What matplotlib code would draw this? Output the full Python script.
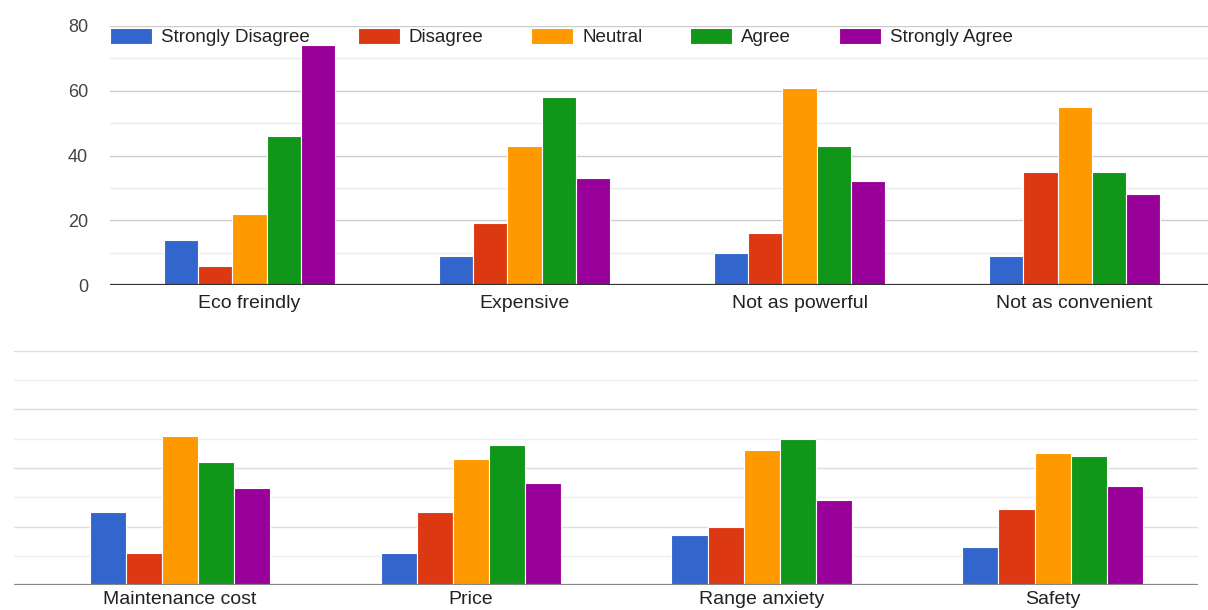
import numpy as np
import matplotlib.pyplot as plt
from matplotlib.ticker import MultipleLocator

# ======================
# Data
# ======================
responses = ['Strongly Disagree', 'Disagree', 'Neutral', 'Agree', 'Strongly Agree']
colors = ['#3366cc', '#dc3912', '#ff9900', '#109618', '#990099']

top_cats = ['Eco freindly', 'Expensive', 'Not as powerful', 'Not as convenient']
top_strongly_disagree = [14, 9, 10, 9]
top_disagree = [6, 19, 16, 35]
top_neutral = [22, 43, 61, 55]
top_agree = [46, 58, 43, 35]
top_strongly_agree = [74, 33, 32, 28]

bot_cats = ['Maintenance cost', 'Price', 'Range anxiety', 'Safety']
bot_strongly_disagree = [25, 11, 17, 13]
bot_disagree = [11, 25, 20, 26]
bot_neutral = [51, 43, 46, 45]
bot_agree = [42, 48, 50, 44]
bot_strongly_agree = [33, 35, 29, 34]

top_series = [top_strongly_disagree, top_disagree, top_neutral, top_agree, top_strongly_agree]
bot_series = [bot_strongly_disagree, bot_disagree, bot_neutral, bot_agree, bot_strongly_agree]

plt.rcParams['font.family'] = ['Liberation Sans', 'DejaVu Sans']

W, H = 1208, 610
fig = plt.figure(figsize=(W / 100, H / 100), dpi=100)


def px_axes(left, top, right, bottom):
    return fig.add_axes([left / W, 1 - bottom / H, (right - left) / W, (bottom - top) / H])


def draw_panel(ax, cats, series, xlim, major_col, minor_col, base_col, fs):
    group = 0.62
    bw = group / len(series)
    x = np.arange(len(cats))
    bars = []
    for i, (vals, c) in enumerate(zip(series, colors)):
        off = -group / 2 + bw * (i + 0.5)
        b = ax.bar(x + off, vals, width=bw, color=c, edgecolor='white', linewidth=0.8, zorder=3)
        bars.append(b)
    ax.set_xlim(*xlim)
    ax.set_ylim(0, 80)
    ax.yaxis.set_major_locator(MultipleLocator(20))
    ax.yaxis.set_minor_locator(MultipleLocator(10))
    ax.grid(axis='y', which='major', color=major_col, linewidth=1.0, zorder=0)
    ax.grid(axis='y', which='minor', color=minor_col, linewidth=1.0, zorder=0)
    ax.axhline(0, color=base_col, linewidth=1.6, zorder=4)
    for s in ax.spines.values():
        s.set_visible(False)
    ax.set_xticks(x)
    ax.set_xticklabels(cats, fontsize=fs, color='#222222')
    ax.tick_params(axis='x', length=0, pad=8)
    ax.tick_params(axis='y', which='both', length=0)
    return bars


# Top panel
ax1 = px_axes(110, 26, 1208, 285)
bars = draw_panel(ax1, top_cats, top_series, (-0.507, 3.485), '#cccccc', '#ebebeb', '#333333', 14)
ax1.set_yticks([0, 20, 40, 60, 80])
ax1.set_yticklabels(['0', '20', '40', '60', '80'], fontsize=13, color='#444444')
ax1.tick_params(axis='y', pad=15.8)
ax1.tick_params(axis='x', pad=7.5)

leg = ax1.legend(bars, responses, loc='center left', bbox_to_anchor=(0.0, (285 - 37) / (285 - 26)),
                 ncol=5, frameon=False, fontsize=13.5, handlelength=2.24, handleheight=1.0,
                 handletextpad=0.48, columnspacing=2.55, borderpad=0, borderaxespad=0)
for t in leg.get_texts():
    t.set_color('#222222')

# Bottom panel (y labels cropped away)
ax2 = px_axes(14, 351, 1198, 585)
draw_panel(ax2, bot_cats, bot_series, (-0.57, 3.5), '#dddddd', '#eeeeee', '#888888', 14)
ax2.set_yticklabels([])
ax2.tick_params(axis='x', pad=4)

fig.savefig('out.png', dpi=100)
